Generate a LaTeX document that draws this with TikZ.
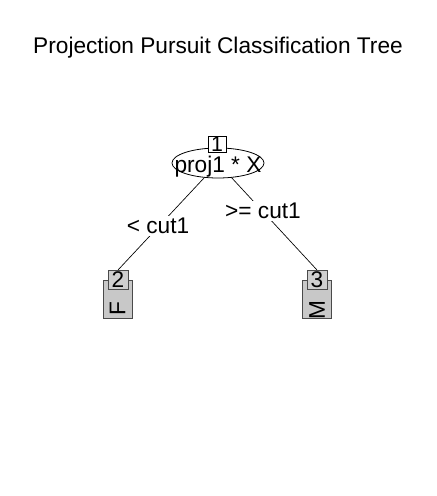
\documentclass[tikz,border=0pt]{standalone}
\usepackage{fontspec}
\setmainfont{Liberation Sans}
\usetikzlibrary{shapes.geometric}
\definecolor{tfill}{HTML}{C8C8C8}
\definecolor{nfill}{HTML}{CFCFCF}
\definecolor{tborder}{HTML}{4A4A4A}
\begin{document}
\begin{tikzpicture}[x=0.75pt,y=-0.75pt,
  titletext/.style={font=\fontsize{17}{19}\selectfont, inner sep=0},
  innernode/.style={ellipse, draw=black, fill=white, line width=0.6pt, minimum width=69pt, minimum height=22.5pt, inner sep=0},
  innertext/.style={inner sep=0, anchor=base, font=\fontsize{17}{19}\selectfont},
  idbox/.style={draw=black, fill=white, line width=0.6pt, minimum width=13.5pt, minimum height=12pt, inner sep=0, font=\fontsize{16}{18}\selectfont},
  termbox/.style={draw=tborder, fill=tfill, line width=0.6pt, minimum width=21.75pt, minimum height=28.5pt, inner sep=0},
  termid/.style={draw=tborder, fill=nfill, line width=0.6pt, minimum width=15pt, minimum height=14.25pt, inner sep=0, font=\fontsize{17}{19}\selectfont},
  termlabel/.style={rotate=90, inner sep=0, font=\fontsize{17}{19}\selectfont},
  edgelabel/.style={fill=white, inner sep=1.5pt, font=\fontsize{17}{19}\selectfont},
  edge/.style={draw=black, line width=0.5pt}]
\useasboundingbox (0,0) rectangle (436,496);
\fill[white] (0,0) rectangle (436,496);
\node[titletext] (title) at (218,48) {Projection Pursuit Classification Tree};
% terminal anchors
\coordinate (t2top) at (118,270);
\coordinate (t3top) at (317,270);
\coordinate (rootc) at (218,163);
% edges
\draw[edge] (rootc) -- (t2top);
\draw[edge] (rootc) -- (t3top);
\node[edgelabel] (el1) at (158,226) {< cut1};
\node[edgelabel] (el2) at (263,211) {>= cut1};
% root
\node[innernode] (root) at (rootc) {};
\node[innertext] (roottext) at (218,172) {proj1 * X};
\node[idbox] (id1) at (217,144.5) {1};
% terminals
\node[termbox] (t2) at (117.5,299) {};
\node[termid] (id2) at (118,279.5) {2};
\node[termlabel] (l2) at (117.5,309) {F};
\node[termbox] (t3) at (317,299) {};
\node[termid] (id3) at (317,279.5) {3};
\node[termlabel] (l3) at (317,310) {M};
\end{tikzpicture}
\end{document}
